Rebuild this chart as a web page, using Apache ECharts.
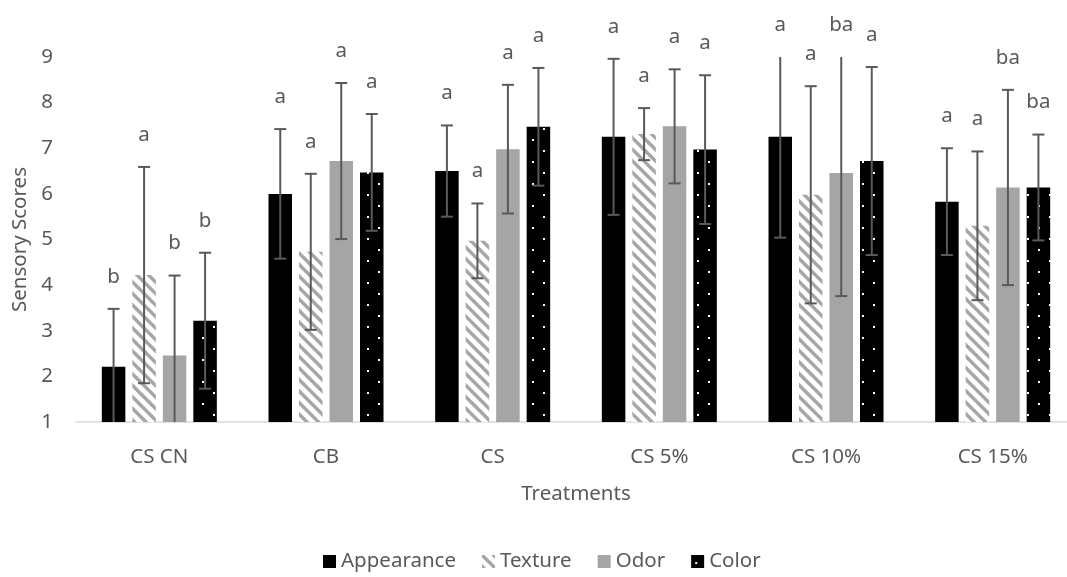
<!DOCTYPE html>
<html><head><meta charset="utf-8">
<script src="https://cdn.jsdelivr.net/npm/echarts@6/dist/echarts.min.js"></script>
<style>html,body{margin:0;padding:0;background:#fff}#chart{width:1067px;height:577px}</style>
</head><body><div id="chart"></div>
<script>
// ---- data ----
const categories = ['CS CN', 'CB', 'CS', 'CS 5%', 'CS 10%', 'CS 15%'];
const seriesNames = ['Appearance', 'Texture', 'Odor', 'Color'];

const appearance    = [2.21, 6.00, 6.50, 7.25, 7.25, 5.83];
const appearanceErr = [1.27, 1.42, 1.00, 1.71, 2.21, 1.17];
const texture       = [4.22, 4.73, 4.97, 7.31, 5.98, 5.30];
const textureErr    = [2.37, 1.71, 0.82, 0.57, 2.38, 1.63];
const odor          = [2.46, 6.72, 6.98, 7.48, 6.46, 6.14];
const odorErr       = [1.75, 1.71, 1.41, 1.25, 2.70, 2.14];
const color         = [3.22, 6.47, 7.47, 6.97, 6.72, 6.14];
const colorErr      = [1.49, 1.28, 1.29, 1.63, 2.06, 1.16];

const appearanceLetters = ['b', 'a', 'a', 'a', 'a', 'a'];
const textureLetters    = ['a', 'a', 'a', 'a', 'a', 'a'];
const odorLetters       = ['b', 'a', 'a', 'a', 'ba', 'ba'];
const colorLetters      = ['b', 'a', 'a', 'a', 'a', 'ba'];

const yMin = 1, yMax = 9, yStep = 1;
const xTitle = 'Treatments';
const yTitle = 'Sensory Scores';

// ---- style ----
const FONT = 'Noto Sans';
const TXT = '#595959';
const FS = 20.5;
const BAR_W = 23.5, BAR_GAP = 7;

function stripePattern() {
  const c = document.createElement('canvas'); c.width = 23; c.height = 23;
  const g = c.getContext('2d');
  g.fillStyle = '#ffffff'; g.fillRect(0, 0, 23, 23);
  g.strokeStyle = '#a6a6a6'; g.lineWidth = 3.4;
  for (let o = -46; o <= 46; o += 11.5) {
    g.beginPath(); g.moveTo(o - 5, -5); g.lineTo(o + 28, 28); g.stroke();
  }
  return c;
}
function dotPattern() {
  const c = document.createElement('canvas'); c.width = 22; c.height = 22;
  const g = c.getContext('2d');
  g.fillStyle = '#000000'; g.fillRect(0, 0, 22, 22);
  g.fillStyle = '#ffffff';
  g.fillRect(4, 7, 2, 2);
  g.fillRect(15, 18, 2, 2);
  return c;
}

const fills = [
  '#000000',
  { image: stripePattern(), repeat: 'repeat' },
  '#a5a5a5',
  { image: dotPattern(), repeat: 'repeat' }
];
const values = [appearance, texture, odor, color];
const errs = [appearanceErr, textureErr, odorErr, colorErr];
const letters = [appearanceLetters, textureLetters, odorLetters, colorLetters];

const barSeries = seriesNames.map((n, k) => ({
  name: n, type: 'bar', data: values[k],
  barWidth: BAR_W, barGap: (BAR_GAP / BAR_W * 100) + '%',
  itemStyle: { color: fills[k] },
  z: 2
}));

const errSeries = seriesNames.map((n, k) => ({
  name: n + ' error', type: 'custom', z: 10, clip: false,
  data: values[k].map((v, i) => [i, v, errs[k][i]]),
  renderItem(params, api) {
    const i = api.value(0), v = api.value(1), e = api.value(2);
    const hi = v + e, lo = v - e;
    const hiC = Math.min(hi, yMax), loC = Math.max(lo, yMin);
    const x = api.coord([i, v])[0] + (k - 1.5) * (BAR_W + BAR_GAP);
    const yHi = api.coord([i, hiC])[1], yLo = api.coord([i, loC])[1];
    const st = { stroke: '#595959', lineWidth: 2 };
    const ch = [{ type: 'line', shape: { x1: x, y1: yHi, x2: x, y2: yLo }, style: st }];
    if (hi <= yMax) ch.push({ type: 'line', shape: { x1: x - 6, y1: yHi, x2: x + 6, y2: yHi }, style: st });
    if (lo >= yMin) ch.push({ type: 'line', shape: { x1: x - 6, y1: yLo, x2: x + 6, y2: yLo }, style: st });
    ch.push({ type: 'text', style: {
      text: letters[k][params.dataIndex], x: x, y: yHi - 32,
      align: 'center', verticalAlign: 'middle',
      fill: TXT, fontSize: FS, fontFamily: FONT } });
    return { type: 'group', children: ch };
  }
}));

const chart = echarts.init(document.getElementById('chart'));
chart.setOption({
  animation: false,
  backgroundColor: '#ffffff',
  textStyle: { fontFamily: FONT },
  grid: { left: 76, top: 57, width: 1000, height: 365, outerBoundsMode: 'none', containLabel: false },
  legend: {
    data: seriesNames, left: 323, top: 551, padding: 0,
    icon: 'rect', itemWidth: 13, itemHeight: 13, itemGap: 26,
    textStyle: { color: TXT, fontSize: FS, fontFamily: FONT }
  },
  xAxis: {
    type: 'category', data: categories,
    name: xTitle, nameLocation: 'middle', nameGap: 62,
    nameTextStyle: { color: TXT, fontSize: FS, fontFamily: FONT },
    axisLine: { lineStyle: { color: '#d9d9d9', width: 1.5 } },
    axisTick: { show: false },
    axisLabel: { color: TXT, fontSize: FS, fontFamily: FONT, margin: 25 }
  },
  yAxis: {
    type: 'value', min: yMin, max: yMax, interval: yStep,
    name: yTitle, nameLocation: 'middle', nameGap: 44, nameRotate: 90,
    nameTextStyle: { color: TXT, fontSize: FS, fontFamily: FONT },
    axisLine: { show: false }, axisTick: { show: false },
    splitLine: { show: false },
    axisLabel: { color: TXT, fontSize: FS, fontFamily: FONT, margin: 23 }
  },
  series: barSeries.concat(errSeries)
});
</script></body></html>
